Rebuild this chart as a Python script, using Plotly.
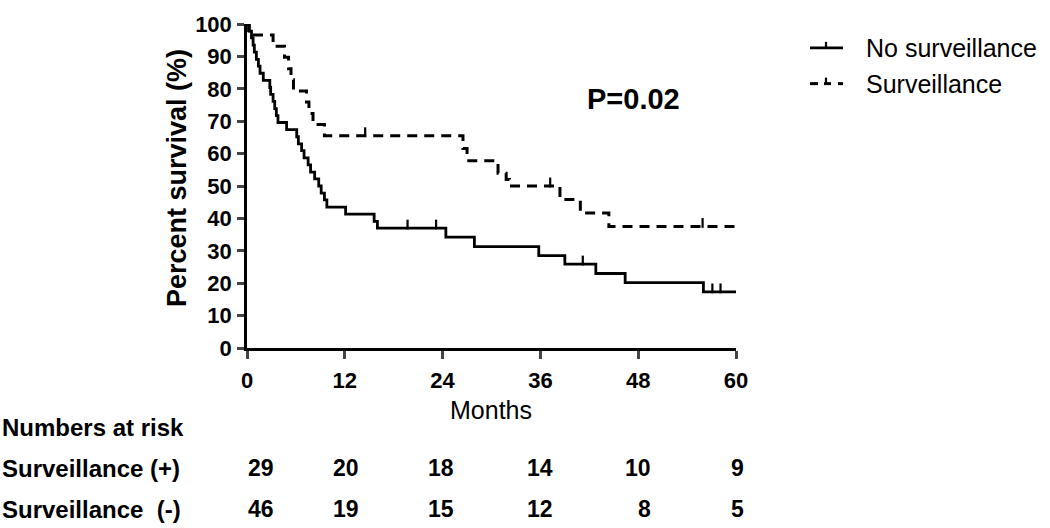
import plotly.graph_objects as go

# ---- data ----
no_surv_t = [0, 0.3, 0.55, 0.75, 0.9, 1.15, 1.4, 1.6, 2.0, 2.8, 2.9, 3.2, 3.4, 3.6, 3.8,
             4.86, 6.1, 6.3, 6.7, 7.0, 7.5, 7.8, 8.3, 8.8, 9.1, 9.5, 9.8, 12.1, 15.6, 16.0,
             24.4, 27.9, 35.8, 39.0, 42.8, 46.4, 56.0, 60]
no_surv_s = [100, 97.8, 95.7, 93.5, 91.3, 89.1, 87.0, 84.8, 82.6, 80.4, 78.3, 76.1, 73.9, 71.7, 69.6,
             67.4, 65.2, 63.0, 60.9, 58.7, 56.5, 54.3, 52.2, 50.0, 47.8, 45.7, 43.5, 41.3, 39.1, 37.0,
             34.2, 31.3, 28.5, 25.9, 23.0, 20.2, 17.3, 17.3]
no_surv_cens_t = [19.7, 23.2, 41.2, 57.1, 58.1]
no_surv_cens_s = [37.0, 37.0, 25.9, 17.3, 17.3]

surv_t = [0, 0.2, 3.2, 4.6, 5.1, 5.4, 5.7, 7.3, 7.6, 8.1, 9.5, 26.5, 27.0, 30.8, 31.8, 32.2,
          38.4, 40.9, 44.4, 60]
surv_s = [100, 96.6, 93.1, 89.7, 86.2, 82.8, 79.3, 75.9, 72.4, 69.0, 65.5, 61.6, 57.8, 53.9, 52.0, 50.0,
          45.8, 41.7, 37.5, 37.5]
surv_cens_t = [14.5, 37.2, 55.9]
surv_cens_s = [65.5, 50.0, 37.5]

x_ticks = [0, 12, 24, 36, 48, 60]
y_ticks = [0, 10, 20, 30, 40, 50, 60, 70, 80, 90, 100]

risk_row_labels = ["Surveillance (+)", "Surveillance  (-)"]
risk_surv = [29, 20, 18, 14, 10, 9]
risk_no_surv = [46, 19, 15, 12, 8, 5]

FONT = "Liberation Sans, Arial, sans-serif"

fig = go.Figure()
fig.add_trace(go.Scatter(x=no_surv_t, y=no_surv_s, mode="lines", line_shape="hv",
                         line=dict(color="black", width=2.8), name="No surveillance",
                         showlegend=False))
fig.add_trace(go.Scatter(x=surv_t, y=surv_s, mode="lines", line_shape="hv",
                         line=dict(color="black", width=3, dash="10px,7px"), name="Surveillance",
                         showlegend=False))
# censor ticks (upward)
fig.add_trace(go.Scatter(x=no_surv_cens_t, y=[v + 1.1 for v in no_surv_cens_s], mode="markers",
                         marker=dict(symbol="line-ns", size=7, line=dict(color="black", width=2.2)),
                         showlegend=False, hoverinfo="skip"))
fig.add_trace(go.Scatter(x=surv_cens_t, y=[v + 1.1 for v in surv_cens_s], mode="markers",
                         marker=dict(symbol="line-ns", size=7, line=dict(color="black", width=2.2)),
                         showlegend=False, hoverinfo="skip"))

L, R, T, B = 247, 314, 22, 180
W, H = 1050, 528
pw, ph = W - L - R, H - T - B


def px_x(p):
    return (p - L) / pw


def px_y(p):
    return (H - B - p) / ph


fig.update_layout(
    width=W, height=H,
    margin=dict(l=L, r=R, t=T, b=B),
    paper_bgcolor="white", plot_bgcolor="white",
    font=dict(family=FONT, color="black"),
    xaxis=dict(range=[0, 60], tickvals=x_ticks, ticks="outside", ticklen=8, tickwidth=2.5,
               showline=True, linecolor="black", linewidth=2.5, showgrid=False, zeroline=False,
               tickfont=dict(size=22, weight="bold", family=FONT), ticklabelstandoff=3),
    yaxis=dict(range=[0, 100], tickvals=y_ticks, ticks="outside", ticklen=7, tickwidth=2.5,
               showline=True, linecolor="black", linewidth=2.5, showgrid=False, zeroline=False,
               tickfont=dict(size=22, weight="bold", family=FONT), ticklabelstandoff=1),
    showlegend=False,
)

ann = []
ann.append(dict(text="Percent survival (%)", x=px_x(177), y=px_y(177), xref="paper", yref="paper",
                textangle=-90, showarrow=False, font=dict(size=27, weight="bold", family=FONT),
                xanchor="center", yanchor="middle"))
ann.append(dict(text="Months", x=px_x(491), y=px_y(410), xref="paper", yref="paper",
                showarrow=False, font=dict(size=25, family=FONT), xanchor="center", yanchor="middle"))
ann.append(dict(text="P=0.02", x=px_x(633), y=px_y(97), xref="paper", yref="paper",
                showarrow=False, font=dict(size=29, weight="bold", family=FONT),
                xanchor="center", yanchor="middle"))
ann.append(dict(text="Numbers at risk", x=px_x(0), y=px_y(428), xref="paper", yref="paper",
                showarrow=False, font=dict(size=24, weight="bold", family=FONT),
                xanchor="left", yanchor="middle"))
row_y = [469, 510]
col_right = [276, 361, 456, 555, 653, 746]
for lab, yy, vals in zip(risk_row_labels, row_y, [risk_surv, risk_no_surv]):
    ann.append(dict(text=lab.replace("  ", "&nbsp; "), x=px_x(0), y=px_y(yy), xref="paper", yref="paper",
                    showarrow=False, font=dict(size=24, weight="bold", family=FONT),
                    xanchor="left", yanchor="middle"))
    for cx, v in zip(col_right, vals):
        ann.append(dict(text=str(v), x=px_x(cx), y=px_y(yy), xref="paper", yref="paper",
                        showarrow=False, font=dict(size=23, weight="bold", family=FONT),
                        xanchor="right", yanchor="middle"))
# legend
legend_names = ["No surveillance", "Surveillance"]
legend_y = [46, 82]
for name, yy in zip(legend_names, legend_y):
    ann.append(dict(text=name, x=px_x(864), y=px_y(yy), xref="paper", yref="paper",
                    showarrow=False, font=dict(size=25, family=FONT),
                    xanchor="left", yanchor="middle"))
fig.update_layout(annotations=ann)

shapes = []
# solid legend sample with censor tick
shapes.append(dict(type="line", xref="paper", yref="paper", x0=px_x(810), x1=px_x(843),
                   y0=px_y(46), y1=px_y(46), line=dict(color="black", width=2.8)))
shapes.append(dict(type="line", xref="paper", yref="paper", x0=px_x(826), x1=px_x(826),
                   y0=px_y(46), y1=px_y(40), line=dict(color="black", width=2.2)))
# dashed legend sample
for a, b in [(810, 818), (824, 831), (838, 843)]:
    shapes.append(dict(type="line", xref="paper", yref="paper", x0=px_x(a), x1=px_x(b),
                       y0=px_y(82), y1=px_y(82), line=dict(color="black", width=3)))
shapes.append(dict(type="line", xref="paper", yref="paper", x0=px_x(826), x1=px_x(826),
                   y0=px_y(82), y1=px_y(76), line=dict(color="black", width=2.2)))
fig.update_layout(shapes=shapes)

fig.write_html("out.html", config={"displayModeBar": False},
               post_script="document.body.style.margin='0';")
